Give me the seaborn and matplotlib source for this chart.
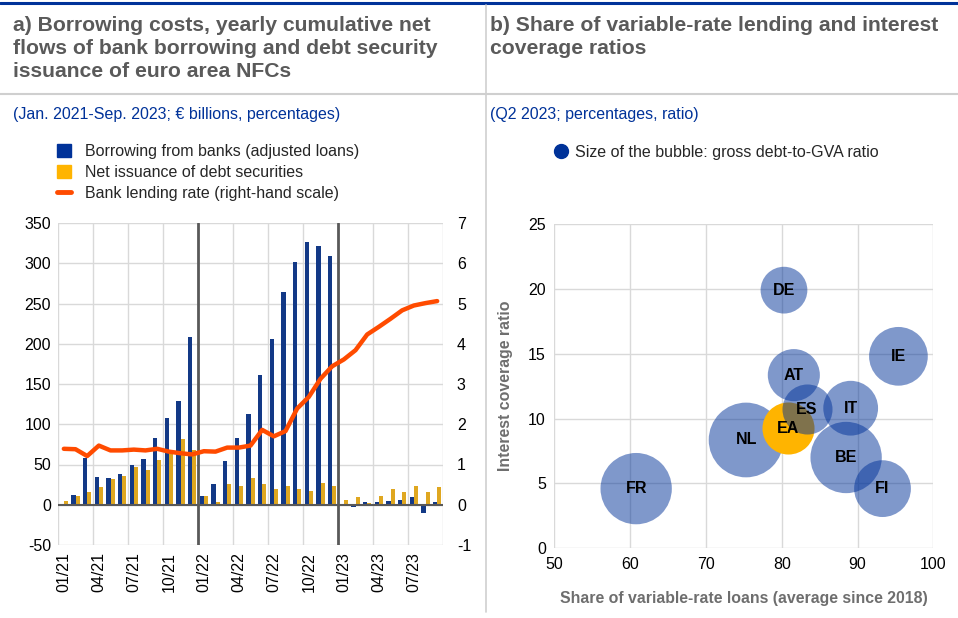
import numpy as np
import pandas as pd
import matplotlib
matplotlib.use("Agg")
import matplotlib.pyplot as plt
import seaborn as sns
from matplotlib.patches import Patch
from matplotlib.lines import Line2D

# ---------------- data ----------------
months = [f"{m:02d}/{y}" for y in (21, 22, 23) for m in range(1, 13)][:33]
bank_borrowing = [0, 12.4, 58, 34, 33, 38.5, 49.3, 56.3, 83.3, 107.7, 129, 208,
                  10.4, 25.7, 54.7, 82.8, 113, 161.6, 205.5, 264.7, 301, 326.4, 321, 309,
                  0.5, -2.5, 2.9, 3.7, 4.1, 5.4, 9.9, -10.4, 3.7]
debt_securities = [4.5, 10.8, 15.7, 21.5, 32.3, 35.6, 46.8, 43, 55, 63, 81.6, 67.5,
                   11.2, 3.7, 25.3, 22.8, 33.5, 25.3, 19, 22.8, 19.9, 16.6, 27.3, 22.8,
                   5.4, 9.1, 2.5, 10.4, 19.5, 16.2, 22.8, 15.7, 21.5]
lending_rate = [1.39, 1.38, 1.21, 1.47, 1.35, 1.35, 1.37, 1.35, 1.39, 1.32, 1.28, 1.25,
                1.33, 1.32, 1.42, 1.42, 1.47, 1.86, 1.70, 1.83, 2.39, 2.68, 3.13, 3.44,
                3.61, 3.84, 4.23, 4.42, 4.62, 4.83, 4.95, 5.01, 5.06]
series_names = ["Borrowing from banks (adjusted loans)", "Net issuance of debt securities"]
rate_name = "Bank lending rate (right-hand scale)"

countries = ["FR", "NL", "DE", "IE", "AT", "BE", "FI", "IT", "EA", "ES"]
var_rate_share = [60.8, 75.3, 80.3, 95.4, 81.6, 88.5, 93.3, 89.1, 80.8, 83.3]
interest_coverage = [4.6, 8.35, 19.9, 14.8, 13.35, 7.0, 4.6, 10.8, 9.25, 10.7]
debt_to_gva = [319, 350, 137, 216, 170, 319, 202, 188, 170, 157]

# ---------------- style ----------------
sns.set_theme(style="white")
plt.rcParams["font.family"] = ["Liberation Sans", "DejaVu Sans"]
plt.rcParams["axes.unicode_minus"] = False
BLUE = "#003299"
YELLOW = "#FFB400"
ORANGE = "#FF4B00"
GRID = "#D9D9D9"
DARK = "#595959"
TXT = "#000000"
FS = 11.5

W, H = 958, 618
fig = plt.figure(figsize=(W / 100, H / 100), dpi=100)

def fx(px):
    return px / W

def fy(py):
    return 1 - py / H

# ---------------- header decorations ----------------
fig.add_artist(Line2D([0, 1], [fy(3), fy(3)], color=BLUE, lw=2.2))
fig.add_artist(Line2D([0, 1], [fy(94), fy(94)], color="#CFCFCF", lw=1.5))
fig.add_artist(Line2D([fx(486), fx(486)], [fy(5), fy(612)], color="#CFCFCF", lw=1.2))

fig.text(fx(13), fy(16), "a) Borrowing costs, yearly cumulative net\nflows of bank borrowing and debt security\nissuance of euro area NFCs",
         ha="left", va="top", fontsize=15.2, fontweight="bold", color="#5A5A5A", linespacing=1.28)
fig.text(fx(490), fy(16), "b) Share of variable-rate lending and interest\ncoverage ratios",
         ha="left", va="top", fontsize=15.2, fontweight="bold", color="#5A5A5A", linespacing=1.28)
fig.text(fx(13), fy(114), "(Jan. 2021-Sep. 2023; \u20ac billions, percentages)",
         ha="left", va="center", fontsize=FS, color=BLUE)
fig.text(fx(490), fy(114), "(Q2 2023; percentages, ratio)",
         ha="left", va="center", fontsize=FS, color=BLUE)

# ---------------- panel a ----------------
axL = fig.add_axes([fx(58), fy(545), fx(443 - 58), (545 - 223) / H])
long = pd.DataFrame({
    "month": months * 2,
    "series": [series_names[0]] * len(months) + [series_names[1]] * len(months),
    "value": bank_borrowing + debt_securities,
})
sns.barplot(data=long, x="month", y="value", hue="series", hue_order=series_names,
            palette=[BLUE, YELLOW], width=0.74, errorbar=None, linewidth=0,
            legend=False, ax=axL, zorder=3)
axL.set_xlim(-0.5, len(months) - 0.5)
axL.set_ylim(-50, 350)
axL.set_yticks(np.arange(-50, 351, 50))
axL.set_xticks(range(0, len(months), 3))
axL.set_xticklabels([months[i] for i in range(0, len(months), 3)], rotation=90)
axL.set_xticks(np.arange(-0.5, len(months), 3), minor=True)
axL.grid(False)
axL.yaxis.grid(True, color=GRID, lw=1, zorder=0)
axL.xaxis.grid(True, which="minor", color=GRID, lw=1, zorder=0)
axL.set_axisbelow(True)
axL.axhline(0, color=DARK, lw=1.5, zorder=4)
for xb in (11.5, 23.5):
    axL.axvline(xb, color=DARK, lw=2, zorder=5)
for s in axL.spines.values():
    s.set_visible(False)
axL.set_xlabel("")
axL.set_ylabel("")
axL.tick_params(axis="both", which="both", length=0, labelsize=FS, colors=TXT, pad=5)

axR = axL.twinx()
sns.lineplot(x=np.arange(len(months)), y=lending_rate, color=ORANGE, lw=3.2, ax=axR,
             solid_capstyle="round", solid_joinstyle="round", zorder=6)
axR.set_ylim(-1, 7)
axR.set_yticks(np.arange(-1, 8, 1))
axR.grid(False)
for s in axR.spines.values():
    s.set_visible(False)
axR.tick_params(axis="y", length=0, labelsize=FS, colors=TXT, pad=10)
axR.set_ylabel("")

handles = [Patch(color=BLUE, label=series_names[0]),
           Patch(color=YELLOW, label=series_names[1]),
           Line2D([0], [0], color=ORANGE, lw=3.5, label=rate_name)]
fig.legend(handles=handles, loc="upper left", bbox_to_anchor=(fx(57), fy(144)),
           frameon=False, fontsize=FS, handlelength=0.9, handleheight=0.9,
           handletextpad=0.85, labelspacing=0.37, borderpad=0, borderaxespad=0)

# ---------------- panel b ----------------
axB = fig.add_axes([fx(554.3), fy(548.3), fx(933.3 - 554.3), (548.3 - 224) / H])
bub = pd.DataFrame({"country": countries, "share": var_rate_share,
                    "icr": interest_coverage, "debt": debt_to_gva})
SMAX = 2894 * max(debt_to_gva) / 350
norm = (0, max(debt_to_gva))
first = bub[~bub["country"].isin(["EA", "ES"])]
for part, col, al in [(first, "#003299", 0.5),
                      (bub[bub["country"] == "EA"], YELLOW, 1.0),
                      (bub[bub["country"] == "ES"], "#003299", 0.5)]:
    sns.scatterplot(data=part, x="share", y="icr", size="debt", sizes=(0, SMAX),
                    size_norm=norm, color=col, alpha=al, linewidth=0, legend=False,
                    ax=axB, zorder=3)
for c, xv, yv in zip(countries, var_rate_share, interest_coverage):
    axB.text(xv, yv, c, ha="center", va="center", fontsize=11.5, fontweight="bold",
             color="black", zorder=6)
axB.set_xlim(50, 100)
axB.set_ylim(0, 25)
axB.set_xticks(np.arange(50, 101, 10))
axB.set_yticks(np.arange(0, 26, 5))
axB.grid(True, color=GRID, lw=1, zorder=0)
axB.set_axisbelow(False)
for s in axB.spines.values():
    s.set_visible(False)
axB.tick_params(axis="both", length=0, labelsize=FS, colors=TXT, pad=6)
axB.set_xlabel("Share of variable-rate loans (average since 2018)", fontsize=11.4,
               fontweight="bold", color="#6E6E6E", labelpad=14)
axB.set_ylabel("Interest coverage ratio", fontsize=11.4, fontweight="bold",
               color="#6E6E6E", labelpad=11)

fig.legend(handles=[Line2D([0], [0], marker="o", color="none", markerfacecolor=BLUE,
                           markeredgecolor=BLUE, markersize=10, label="Size of the bubble: gross debt-to-GVA ratio")],
           loc="upper left", bbox_to_anchor=(fx(553), fy(145)), frameon=False, fontsize=FS,
           handlelength=1.0, handletextpad=0.4, borderpad=0, borderaxespad=0)

fig.savefig("out.png", dpi=100)
